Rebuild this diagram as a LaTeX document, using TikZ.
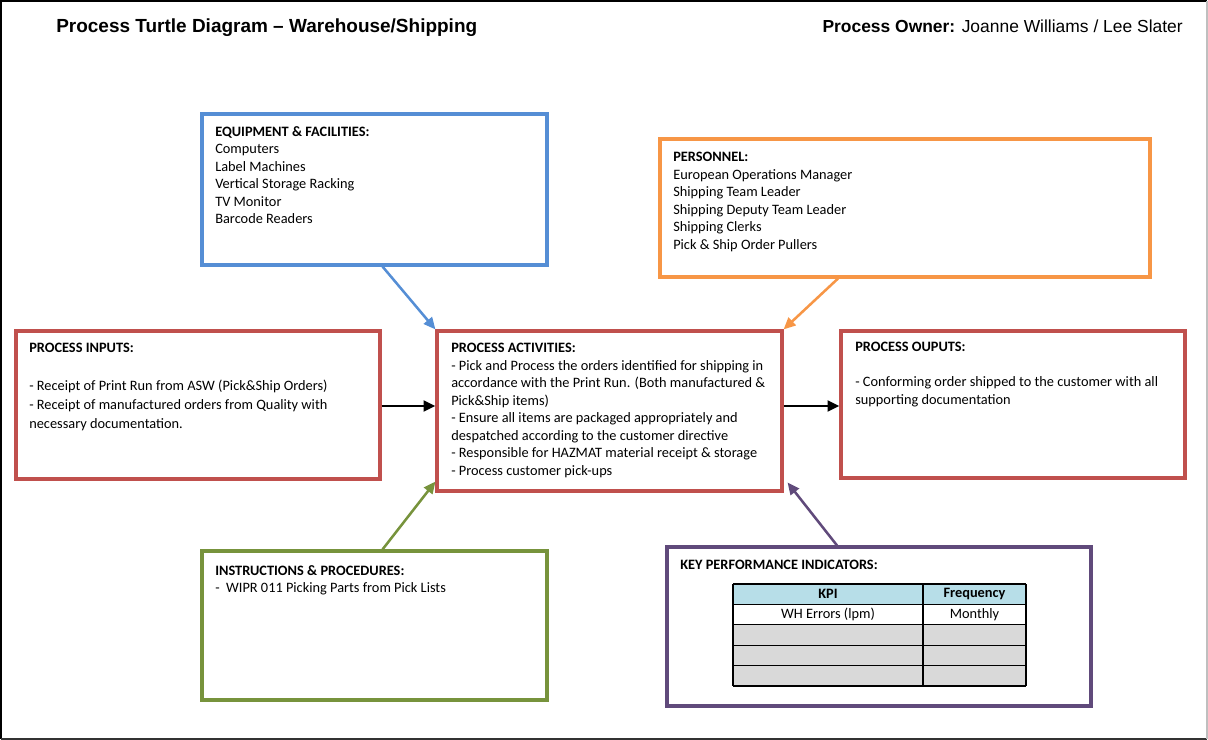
\documentclass[tikz,border=0pt]{standalone}
\usepackage{fontspec}
\setmainfont{Carlito}
\newfontfamily\arialfont{Liberation Sans}
\usepackage{tikz}
\usetikzlibrary{arrows.meta, positioning, fit, calc}
\definecolor{equipcolor}{RGB}{85, 142, 213}
\definecolor{staffcolor}{RGB}{247, 150, 70}
\definecolor{processcolor}{RGB}{192, 80, 77}
\definecolor{instrcolor}{RGB}{119, 147, 60}
\definecolor{kpicolor}{RGB}{96, 74, 123}
\definecolor{headcolor}{RGB}{183, 222, 232}
\definecolor{rowcolor}{RGB}{217, 217, 217}

\begin{document}
\begin{tikzpicture}[x=0.025cm, y=-0.025cm,
    box/.style={draw, line width=2.2pt, inner sep=0pt},
    boxtext/.style={anchor=north west, inner sep=0pt, align=left, font=\fontsize{10.2}{12.45}\selectfont},
    flow/.style={line width=1.8pt, -{Triangle[length=8.5pt, width=7.5pt]}},
    cell/.style={inner sep=0pt, font=\fontsize{10.2}{12.45}\selectfont}]
    \useasboundingbox (0,0) rectangle (1208,740);

    % Page frame
    \draw[line width=1.4pt] (1,739) -- (1,1) -- (1207,1);
    \draw[line width=1.4pt, black!80] (1,739) -- (1207,739);
    \draw[line width=0.8pt, black!25] (1207,1) -- (1207,739);

    % Header
    \node[anchor=base west, inner sep=0pt, font=\arialfont\fontsize{13.5}{16}\selectfont\bfseries] (title) at (56,33) {Process Turtle Diagram – Warehouse/Shipping};
    \node[anchor=base east, inner sep=0pt, font=\arialfont\fontsize{12.4}{15}\selectfont] (owner) at (1183,33) {\textbf{Process Owner:} Joanne Williams / Lee Slater};

    % Equipment & facilities
    \node[box, draw=equipcolor, fit={(202,114) (547,265)}] (equip) {};
    \node[boxtext] (equiptext) at (215,126) {\textbf{EQUIPMENT \& FACILITIES:}\\
        Computers\\
        Label Machines\\
        Vertical Storage Racking\\
        TV Monitor\\
        Barcode Readers};

    % Personnel
    \node[box, draw=staffcolor, fit={(660,139) (1150,277)}] (staff) {};
    \node[boxtext] (stafftext) at (673,152) {\textbf{PERSONNEL:}\\
        European Operations Manager\\
        Shipping Team Leader\\
        Shipping Deputy Team Leader\\
        Shipping Clerks\\
        Pick \& Ship Order Pullers};

    % Inputs
    \node[box, draw=processcolor, fit={(16,331) (380,479)}] (inputs) {};
    \node[boxtext, font=\fontsize{10.2}{13.6}\selectfont] (inputstext) at (29,343) {\textbf{PROCESS INPUTS:}\\[13pt]
        - Receipt of Print Run from ASW (Pick\&Ship Orders)\\
        - Receipt of manufactured orders from Quality with\\
        necessary documentation.};

    % Activities
    \node[box, draw=processcolor, fit={(437,331) (782,491)}] (activ) {};
    \node[boxtext] (activtext) at (451,343) {\textbf{PROCESS ACTIVITIES:}\\
        - Pick and Process the orders identified for shipping in\\
        accordance with the Print Run. (Both manufactured \&\\
        Pick\&Ship items)\\
        - Ensure all items are packaged appropriately and\\
        despatched according to the customer directive\\
        - Responsible for HAZMAT material receipt \& storage\\
        - Process customer pick-ups};

    % Outputs
    \node[box, draw=processcolor, fit={(841,331) (1185,478)}] (outputs) {};
    \node[boxtext] (outputstext) at (855,342) {\textbf{PROCESS OUPUTS:}\\[12.45pt]
        - Conforming order shipped to the customer with all\\
        supporting documentation};

    % Instructions & procedures
    \node[box, draw=instrcolor, fit={(202,551) (547,700)}] (instr) {};
    \node[boxtext] (instrtext) at (215,565) {\textbf{INSTRUCTIONS \& PROCEDURES:}\\
        -\ \ WIPR 011 Picking Parts from Pick Lists};

    % KPIs
    \node[box, draw=kpicolor, fit={(667,547) (1091,706)}] (kpi) {};
    \node[boxtext] (kpitext) at (680,560) {\textbf{KEY PERFORMANCE INDICATORS:}};

    % KPI table
    \fill[headcolor] (733,584) rectangle (1026,604.4);
    \fill[rowcolor] (733,624.8) rectangle (1026,686);
    \foreach \y in {584,604.4,624.8,645.2,665.6,686}
        \draw[line width=0.8pt] (733,\y) -- (1026,\y);
    \foreach \x in {733,923,1026}
        \draw[line width=0.8pt] (\x,584) -- (\x,686);
    \node[cell] (kpihead) at (828,594.2) {\textbf{KPI}};
    \node[cell] (freqhead) at (974.5,594.2) {\textbf{Frequency}};
    \node[cell] (kpirow) at (828,614.6) {WH Errors (lpm)};
    \node[cell] (freqrow) at (974.5,614.6) {Monthly};

    % Connectors
    \draw[flow, equipcolor] ($(equip.south)+(8,0)$) -- (activ.north west);
    \draw[flow, staffcolor] ($(staff.south)+(-67,0)$) -- (activ.north east);
    \draw[flow, instrcolor] ($(instr.north)+(8,0)$) -- ($(activ.south west)+(0,-11)$);
    \draw[flow, kpicolor] ($(kpi.north)+(-42,0)$) -- ($(activ.south east)+(4,-10)$);
    \draw[flow, black, line width=2.1pt] (inputs.east |- 0,406) -- (activ.west |- 0,406);
    \draw[flow, black, line width=2.1pt] (activ.east |- 0,406) -- (outputs.west |- 0,406);

\end{tikzpicture}
\end{document}
